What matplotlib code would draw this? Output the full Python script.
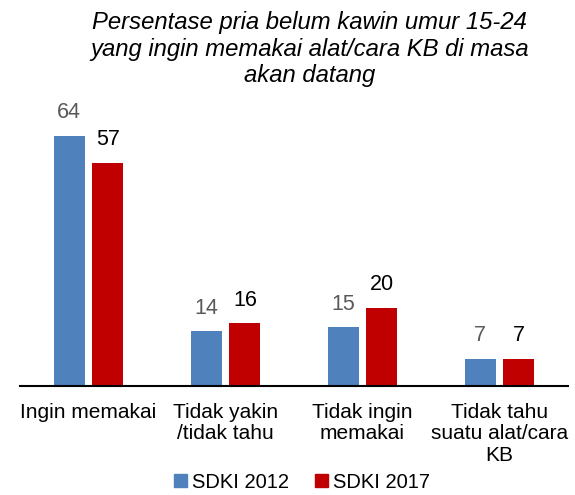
import numpy as np
import matplotlib.pyplot as plt
from matplotlib.patches import Patch
from matplotlib import font_manager

plt.rcParams['font.family'] = ['Liberation Sans', 'DejaVu Sans']

categories = ["Ingin memakai", "Tidak yakin\n/tidak tahu", "Tidak ingin\nmemakai",
              "Tidak tahu\nsuatu alat/cara\nKB"]
sdki_2012 = [64, 14, 15, 7]
sdki_2017 = [57, 16, 20, 7]
series_names = ["SDKI 2012", "SDKI 2017"]

blue = "#4F81BD"
red = "#C00000"

# legend in the original uses a narrow font
names = {f.name for f in font_manager.fontManager.ttflist}
if "Liberation Sans Narrow" in names:
    leg_font, leg_size = "Liberation Sans Narrow", 17
else:
    leg_font, leg_size = "Liberation Sans", 14.5
leg_px = leg_size * 100 / 72

fig = plt.figure(figsize=(5.75, 4.95), dpi=100)
ax = fig.add_axes([0.0348, 0.2202, 0.953, 0.5535])

x = np.arange(len(categories))
w = 0.226
b1 = ax.bar(x - 0.142, sdki_2012, w, color=blue)
b2 = ax.bar(x + 0.142, sdki_2017, w, color=red)
ax.bar_label(b1, padding=9, fontsize=15.5, color="#595959")
ax.bar_label(b2, padding=9, fontsize=15.5, color="black")

ax.set_xlim(-0.5, len(categories) - 0.5)
ax.set_ylim(0, 70)
ax.set_xticks(x)
ax.set_xticklabels(categories, fontsize=15, linespacing=1.18)
ax.tick_params(axis="x", length=0, pad=12)
ax.set_yticks([])
for s in ["left", "right", "top"]:
    ax.spines[s].set_visible(False)
ax.spines["bottom"].set_linewidth(1.5)

fig.text(0.539, 0.977, "Persentase pria belum kawin umur 15-24\nyang ingin memakai alat/cara KB di masa\nakan datang",
         ha="center", va="top", fontsize=17.2, style="italic", linespacing=1.18)

handles = [Patch(color=blue), Patch(color=red)]
fig.legend(handles, series_names, loc="center", bbox_to_anchor=(302 / 575, 1 - 482 / 495), ncol=2,
           frameon=False, prop={"family": leg_font, "size": leg_size},
           handlelength=13 / leg_px, handleheight=13 / leg_px,
           handletextpad=5 / leg_px, columnspacing=26 / leg_px, borderpad=0)

fig.savefig("out.png", dpi=100)
